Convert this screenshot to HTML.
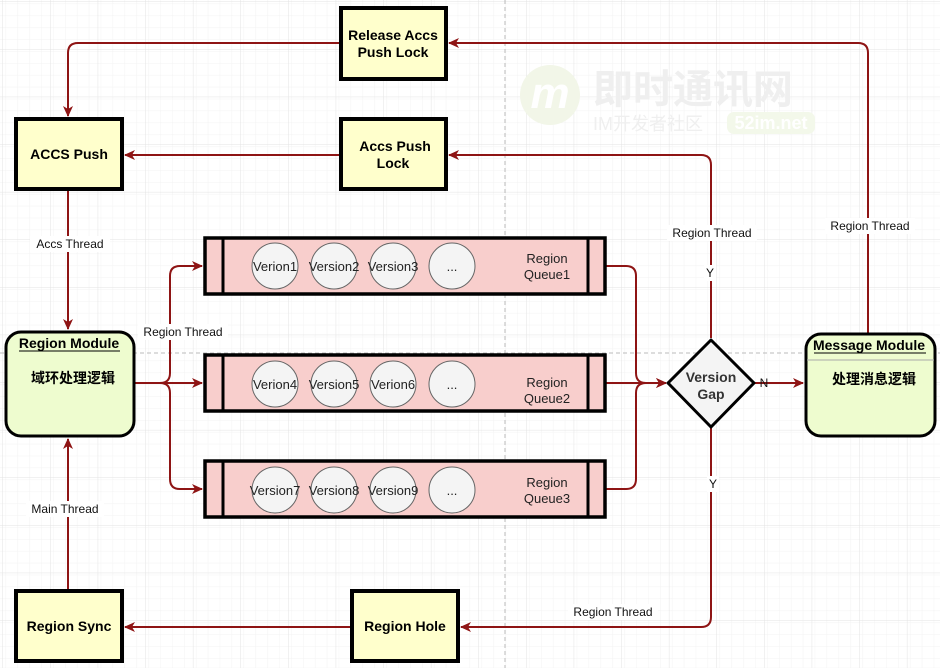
<!DOCTYPE html>
<html><head><meta charset="utf-8"><style>
html,body{margin:0;padding:0;background:#fff;}
svg{display:block;}
text{font-family:"Liberation Sans","Noto Sans CJK SC",sans-serif;}
</style></head><body>
<svg width="940" height="668" viewBox="0 0 940 668" xmlns="http://www.w3.org/2000/svg">
<defs>
<pattern id="minor" width="11.9" height="11.9" patternUnits="userSpaceOnUse" x="3" y="2">
<path d="M11.9 0V11.9H0" fill="none" stroke="#f3f3f3" stroke-width="1"/>
</pattern>
<pattern id="major" width="47.6" height="47.6" patternUnits="userSpaceOnUse" x="3" y="2">
<rect width="47.6" height="47.6" fill="url(#minor)"/>
<path d="M47.6 0V47.6H0" fill="none" stroke="#e3e3e3" stroke-width="1"/>
</pattern>
<marker id="ar" markerWidth="12" markerHeight="12" refX="10" refY="6" orient="auto" markerUnits="userSpaceOnUse">
<path d="M0 1 L11 6 L0 11 L3 6 Z" fill="#8e1414"/>
</marker>
</defs>
<rect width="940" height="668" fill="url(#major)"/>
<line x1="505" y1="0" x2="505" y2="668" stroke="#bbb" stroke-dasharray="4 3"/>
<line x1="0" y1="353" x2="940" y2="353" stroke="#bbb" stroke-dasharray="4 3"/>

<!-- watermark -->
<circle cx="550" cy="95" r="30" fill="#f2f6e8"/>
<text x="550" y="108" font-size="44" font-style="italic" font-weight="bold" fill="#fff" text-anchor="middle" font-family="Liberation Serif,serif">m</text>
<text x="593" y="103" font-size="40" font-weight="bold" fill="#efefef" font-family="Liberation Sans,Noto Sans CJK SC,sans-serif">即时通讯网</text>
<text x="593" y="130" font-size="18" fill="#efefef">IM开发者社区</text>
<rect x="727" y="112" width="88" height="22" rx="7" fill="#f3f8ea"/>
<text x="771" y="129" font-size="18" fill="#fff" text-anchor="middle" font-weight="bold">52im.net</text>

<g fill="none" stroke="#8e1414" stroke-width="2">
<path d="M340 43 H78 Q68 43 68 53 V116" marker-end="url(#ar)"/>
<path d="M868 333 V53 Q868 43 858 43 H449" marker-end="url(#ar)"/>
<path d="M711 338 V165 Q711 155 701 155 H449" marker-end="url(#ar)"/>
<path d="M340 155 H125" marker-end="url(#ar)"/>
<path d="M68 190 V329" marker-end="url(#ar)"/>
<path d="M135 383 H202" marker-end="url(#ar)"/>
<path d="M160 383 Q170 383 170 373 V276 Q170 266 180 266 H202" marker-end="url(#ar)"/>
<path d="M160 383 Q170 383 170 393 V479 Q170 489 180 489 H202" marker-end="url(#ar)"/>
<path d="M606 266 H626 Q636 266 636 276 V373 Q636 383 646 383 H666" marker-end="url(#ar)"/>
<path d="M606 383 H666" marker-end="url(#ar)"/>
<path d="M606 489 H626 Q636 489 636 479 V393 Q636 383 646 383" />
<path d="M755 383 H803" marker-end="url(#ar)"/>
<path d="M711 428 V617 Q711 627 701 627 H461" marker-end="url(#ar)"/>
<path d="M351 627 H125" marker-end="url(#ar)"/>
<path d="M68 590 V439" marker-end="url(#ar)"/>
</g>

<g font-size="12" fill="#111" text-anchor="middle">
<rect x="30" y="236" width="80" height="16" fill="#fff"/><text x="70" y="248">Accs Thread</text>
<rect x="26" y="501" width="78" height="16" fill="#fff"/><text x="65" y="513">Main Thread</text>
<rect x="138" y="324" width="90" height="16" fill="#fff"/><text x="183" y="336">Region Thread</text>
<rect x="667" y="225" width="90" height="16" fill="#fff"/><text x="712" y="237">Region Thread</text>
<rect x="825" y="218" width="90" height="16" fill="#fff"/><text x="870" y="230">Region Thread</text>
<rect x="568" y="604" width="90" height="16" fill="#fff"/><text x="613" y="616">Region Thread</text>
<rect x="704" y="265" width="12" height="16" fill="#fff"/><text x="710" y="277">Y</text>
<rect x="707" y="476" width="12" height="16" fill="#fff"/><text x="713" y="488">Y</text>
<text x="764" y="387">N</text>
</g>

<g fill="#ffffcc" stroke="#000" stroke-width="4">
<rect x="341" y="8" width="105" height="71"/>
<rect x="341" y="119" width="105" height="70"/>
<rect x="16" y="119" width="106" height="70"/>
<rect x="16" y="591" width="106" height="70"/>
<rect x="352" y="591" width="106" height="70"/>
</g>
<g font-size="14" font-weight="bold" fill="#000" text-anchor="middle">
<text x="393" y="40">Release  Accs</text><text x="393" y="57">Push Lock</text>
<text x="395" y="151">Accs Push</text><text x="393" y="168">Lock</text>
<text x="69" y="159">ACCS Push</text>
<text x="69" y="631">Region Sync</text>
<text x="405" y="631">Region Hole</text>
</g>

<rect x="6" y="332" width="128" height="104" rx="15" fill="#eefccf" stroke="#000" stroke-width="3"/>
<text x="69" y="348" font-size="14" font-weight="bold" text-anchor="middle">Region Module</text>
<line x1="19" y1="351" x2="120" y2="351" stroke="#000" stroke-width="1"/>
<text x="73" y="383" font-size="14" font-weight="bold" text-anchor="middle">域环处理逻辑</text>

<rect x="806" y="334" width="129" height="102" rx="15" fill="#eefccf" stroke="#000" stroke-width="3"/>
<text x="869" y="350" font-size="14" font-weight="bold" text-anchor="middle">Message Module</text>
<line x1="814" y1="353" x2="926" y2="353" stroke="#000" stroke-width="1"/>
<line x1="807" y1="360" x2="934" y2="360" stroke="#aaa" stroke-width="1"/>
<text x="874" y="384" font-size="14" font-weight="bold" text-anchor="middle">处理消息逻辑</text>

<path d="M711 340 L754 383 L711 427 L668 383 Z" fill="#f4f4f4" stroke="#000" stroke-width="3" stroke-linejoin="round"/>
<text x="711" y="382" font-size="14" font-weight="bold" fill="#333" text-anchor="middle">Version</text>
<text x="711" y="399" font-size="14" font-weight="bold" fill="#333" text-anchor="middle">Gap</text>

<g stroke="#000" stroke-width="3.5" fill="#f8cecc">
<rect x="205" y="238" width="400" height="56"/>
<rect x="205" y="355" width="400" height="56"/>
<rect x="205" y="461" width="400" height="56"/>
</g>
<g stroke="#000" stroke-width="3">
<line x1="223" y1="238" x2="223" y2="294"/><line x1="588" y1="238" x2="588" y2="294"/>
<line x1="223" y1="355" x2="223" y2="411"/><line x1="588" y1="355" x2="588" y2="411"/>
<line x1="223" y1="461" x2="223" y2="517"/><line x1="588" y1="461" x2="588" y2="517"/>
</g>
<g fill="#f4f4f4" stroke="#666" stroke-width="1">
<circle cx="275" cy="266" r="23"/><circle cx="334" cy="266" r="23"/><circle cx="393" cy="266" r="23"/><circle cx="452" cy="266" r="23"/>
<circle cx="275" cy="384" r="23"/><circle cx="334" cy="384" r="23"/><circle cx="393" cy="384" r="23"/><circle cx="452" cy="384" r="23"/>
<circle cx="275" cy="490" r="23"/><circle cx="334" cy="490" r="23"/><circle cx="393" cy="490" r="23"/><circle cx="452" cy="490" r="23"/>
</g>
<g font-size="13" fill="#222" text-anchor="middle">
<text x="275" y="271">Verion1</text><text x="334" y="271">Version2</text><text x="393" y="271">Version3</text><text x="452" y="271">...</text>
<text x="275" y="389">Verion4</text><text x="334" y="389">Version5</text><text x="393" y="389">Verion6</text><text x="452" y="389">...</text>
<text x="275" y="495">Version7</text><text x="334" y="495">Version8</text><text x="393" y="495">Version9</text><text x="452" y="495">...</text>
<text x="547" y="263">Region</text><text x="547" y="279">Queue1</text>
<text x="547" y="387">Region</text><text x="547" y="403">Queue2</text>
<text x="547" y="487">Region</text><text x="547" y="503">Queue3</text>
</g>
</svg>
</body></html>
